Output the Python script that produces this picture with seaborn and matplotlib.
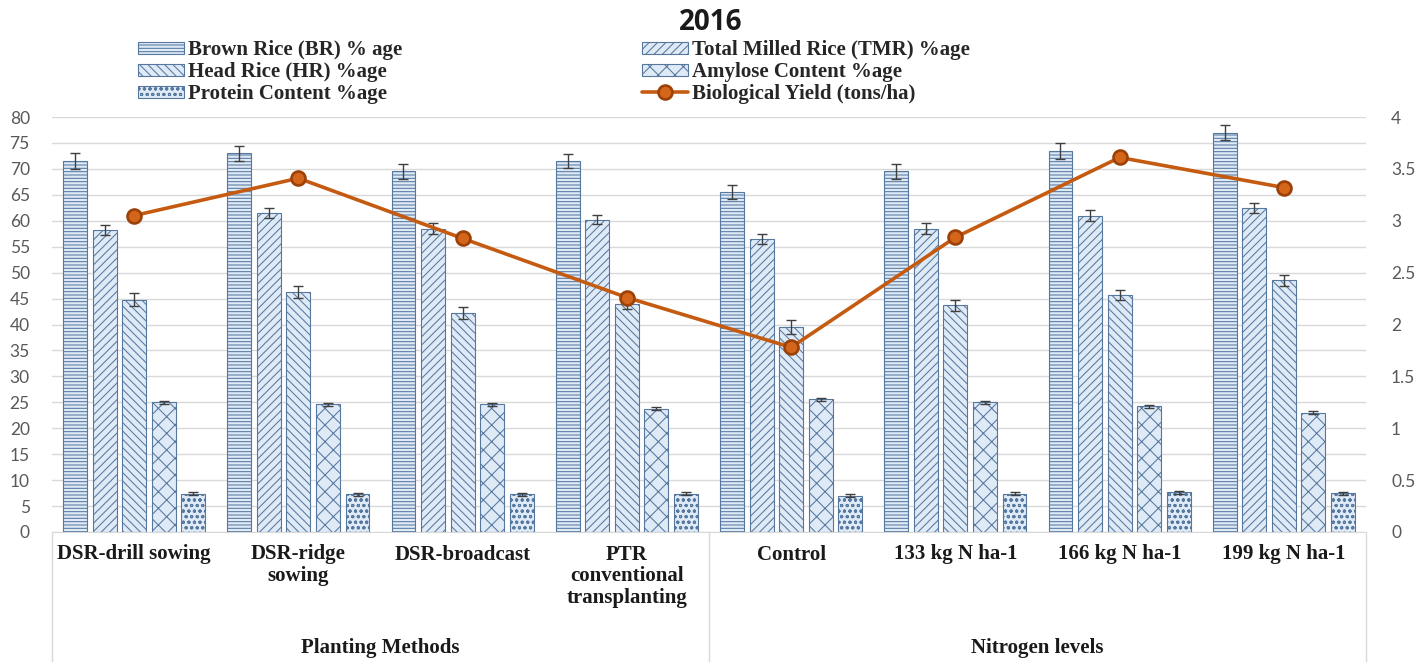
import numpy as np
import pandas as pd
import matplotlib
matplotlib.use("Agg")
import matplotlib.pyplot as plt
import matplotlib.transforms as mtransforms
import seaborn as sns

# ---- data ----
categories = ["DSR-drill sowing", "DSR-ridge sowing", "DSR-broadcast",
              "PTR conventional transplanting", "Control",
              "133 kg N ha-1", "166 kg N ha-1", "199 kg N ha-1"]
tick_labels = ["DSR-drill sowing", "DSR-ridge\nsowing", "DSR-broadcast",
               "PTR\nconventional\ntransplanting", "Control",
               "133 kg N ha-1", "166 kg N ha-1", "199 kg N ha-1"]
groups = ["Planting Methods", "Nitrogen levels"]

series = ["Brown Rice (BR) % age", "Total Milled Rice (TMR) %age",
          "Head Rice (HR) %age", "Amylose Content %age", "Protein Content %age"]
brown_rice = [71.5, 73.0, 69.5, 71.5, 65.5, 69.5, 73.5, 77.0]
total_milled = [58.2, 61.5, 58.5, 60.2, 56.5, 58.5, 61.0, 62.5]
head_rice = [44.8, 46.3, 42.2, 44.0, 39.5, 43.7, 45.7, 48.5]
amylose = [25.0, 24.6, 24.6, 23.8, 25.6, 25.0, 24.2, 23.0]
protein = [7.4, 7.3, 7.3, 7.4, 7.0, 7.4, 7.7, 7.5]

err_br = [1.6, 1.4, 1.5, 1.3, 1.3, 1.5, 1.5, 1.5]
err_tmr = [1.0, 1.0, 1.0, 0.9, 0.9, 1.0, 1.0, 1.0]
err_hr = [1.3, 1.2, 1.2, 1.1, 1.3, 1.1, 1.0, 1.1]
err_am = [0.3, 0.3, 0.3, 0.3, 0.3, 0.3, 0.3, 0.3]
err_pr = [0.3, 0.3, 0.3, 0.3, 0.3, 0.3, 0.3, 0.3]

yield_label = "Biological Yield (tons/ha)"
bio_yield = [3.05, 3.41, 2.83, 2.26, 1.78, 2.84, 3.61, 3.32]

left_ticks = np.arange(0, 81, 5)
right_ticks = np.arange(0, 4.01, 0.5)

# ---- style ----
sns.set_style("white")
plt.rcParams["hatch.linewidth"] = 0.75
serif = ["Liberation Serif", "DejaVu Serif"]
tick_font = ["Lato", "DejaVu Sans"]
fill = "#dfeaf7"
hatch_col = "#56789f"
hatches = ["-----", "////", "\\\\\\\\", "xx", "ooo"]
line_col = "#c55a11"

values = [brown_rice, total_milled, head_rice, amylose, protein]
errors = [err_br, err_tmr, err_hr, err_am, err_pr]
df = pd.DataFrame({
    "cat": np.tile(categories, len(series)),
    "series": np.repeat(series, len(categories)),
    "val": np.concatenate(values),
})

fig = plt.figure(figsize=(14.22, 6.62), dpi=100)
ax = fig.add_axes([52 / 1422, 1 - 532 / 662, 1314 / 1422, 415 / 662])

sns.barplot(data=df, x="cat", y="val", hue="series", order=categories,
            hue_order=series, palette=[fill] * 5, width=0.9, gap=0.19,
            errorbar=None, legend=False, ax=ax, zorder=2)

for cont, h, err in zip(ax.containers, hatches, errors):
    xs, ys = [], []
    for p in cont.patches:
        p.set_hatch(h)
        p.set_edgecolor(hatch_col)
        p.set_facecolor(fill)
        p.set_linewidth(0.8)
        xs.append(p.get_x() + p.get_width() / 2)
        ys.append(p.get_height())
    ax.errorbar(xs, ys, yerr=err, fmt="none", ecolor="#3f3f3f",
                elinewidth=1, capsize=3.5, capthick=1, zorder=3)

ax.set_ylim(0, 80)
ax.set_yticks(left_ticks)
ax.set_yticklabels([f"{t:g}" for t in left_ticks], family=tick_font,
                   fontsize=12.5, color="#595959")
ax.yaxis.grid(True, color="#d9d9d9", lw=1)
ax.set_axisbelow(True)
ax.set_xlabel("")
ax.set_ylabel("")
ax.set_xticks(range(len(categories)))
ax.set_xticklabels(tick_labels, family=serif, fontweight="bold",
                   fontsize=15, color="#1a1a1a", linespacing=1.1, va="top")
ax.tick_params(axis="both", length=0)
ax.tick_params(axis="x", pad=9)
ax.tick_params(axis="y", pad=16)
for s in ["top", "right", "left"]:
    ax.spines[s].set_visible(False)
ax.spines["bottom"].set_color("#d9d9d9")

# group separators and group labels below the axis
trans = mtransforms.blended_transform_factory(ax.transData, ax.transAxes)
for xb in [-0.5, 3.5, 7.5]:
    ax.plot([xb, xb], [0, -0.32], transform=trans, color="#d9d9d9",
            lw=1, clip_on=False)
for i, g in enumerate(groups):
    ax.text(1.5 + 4 * i, -0.28, g, transform=trans, ha="center", va="center",
            family=serif, fontweight="bold", fontsize=15, color="#1a1a1a")

# secondary axis: yield line
ax2 = ax.twinx()
sns.pointplot(x=categories, y=bio_yield, order=categories, ax=ax2,
              color=line_col, errorbar=None, markers="o", linewidth=2.6,
              markersize=10, markeredgecolor="#9c4209", markerfacecolor="#d4661c")
ax2.set_ylim(0, 4)
ax2.set_yticks(right_ticks)
ax2.set_yticklabels([f"{t:g}" for t in right_ticks], family=tick_font,
                    fontsize=12.5, color="#595959")
ax2.tick_params(axis="y", length=0, pad=18)
ax2.set_ylabel("")
for s in ax2.spines.values():
    s.set_visible(False)

# legend (row-wise order as in the reference)
handles = [ax.containers[0], ax.containers[2], ax.containers[4],
           ax.containers[1], ax.containers[3], ax2.lines[0]]
labels = [series[0], series[2], series[4], series[1], series[3], yield_label]
fig.legend(handles, labels, ncol=2, loc="upper left",
           bbox_to_anchor=(138 / 1422, 1 - 40 / 662), frameon=False,
           prop={"family": serif, "weight": "bold", "size": 15},
           handlelength=2.2, handleheight=0.5, handletextpad=0.2,
           labelspacing=0.1, columnspacing=11.5, borderpad=0,
           borderaxespad=0)

fig.text(711 / 1422, 1 - 22 / 662, "2016", ha="center", va="center",
         family=["Open Sans", "DejaVu Sans"], fontweight="bold",
         fontsize=20, color="#1a1a1a")

fig.savefig("out.png", dpi=100)
